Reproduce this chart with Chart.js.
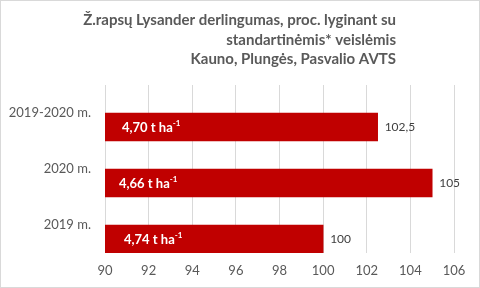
<!DOCTYPE html>
<html>
<head>
<meta charset="utf-8">
<script src="https://cdn.jsdelivr.net/npm/chart.js@4"></script>
<style>
html,body{margin:0;padding:0;background:#fff;}
canvas{display:block;}
</style>
</head>
<body>
<canvas id="c" width="480" height="288"></canvas>
<script>
const categories = ["2019-2020 m.", "2020 m.", "2019 m."];
const relativeValues = [102.5, 105, 100];
const yieldLabels = ["4,70", "4,66", "4,74"];
const xTicks = [90, 92, 94, 96, 98, 100, 102, 104, 106];
const titleLines = [
  "Ž.rapsų Lysander derlingumas, proc. lyginant su",
  "standartinėmis* veislėmis",
  "Kauno, Plungės, Pasvalio AVTS"
];

const FONT = "Lato, 'Open Sans', sans-serif";

const drawPlugin = {
  id: 'custom',
  afterDraw(chart) {
    const ctx = chart.ctx;
    ctx.save();
    // border
    ctx.strokeStyle = '#d9d9d9';
    ctx.lineWidth = 1;
    ctx.strokeRect(0.5, 0.5, 479, 287);
    // title
    ctx.fillStyle = '#595959';
    ctx.font = 'bold 15px ' + FONT;
    ctx.textAlign = 'right';
    ctx.textBaseline = 'alphabetic';
    titleLines.forEach((t, i) => ctx.fillText(t, 396, 25 + i * 19.5));
    // labels
    const meta = chart.getDatasetMeta(1);
    const xBase = chart.scales.x.getPixelForValue(chart.scales.x.min);
    meta.data.forEach((bar, i) => {
      const p = bar.getProps(['x', 'y'], true);
      // value label
      ctx.fillStyle = '#404040';
      ctx.font = '12px ' + FONT;
      ctx.textAlign = 'left';
      ctx.textBaseline = 'middle';
      ctx.fillText(String(relativeValues[i]).replace('.', ','), p.x + 7, p.y);
      // inside label
      const x0 = xBase + [17, 14, 19][i];
      ctx.fillStyle = '#ffffff';
      ctx.font = 'bold 13px ' + FONT;
      const main = yieldLabels[i] + ' t ha';
      ctx.fillText(main, x0, p.y + 1);
      const w = ctx.measureText(main).width;
      ctx.font = 'bold 8px ' + FONT;
      ctx.fillText('-1', x0 + w, p.y - 4);
    });
    ctx.restore();
  }
};

new Chart(document.getElementById('c'), {
  type: 'bar',
  data: {
    labels: categories,
    datasets: [
      { data: relativeValues.map(() => null), backgroundColor: 'rgba(0,0,0,0)' },
      { data: relativeValues, backgroundColor: '#c00000' }
    ]
  },
  options: {
    indexAxis: 'y',
    responsive: false,
    animation: false,
    layout: { padding: { top: 85, right: 26, left: 0, bottom: 0 } },
    datasets: { bar: { categoryPercentage: 1.0, barPercentage: 1.0 } },
    plugins: { legend: { display: false }, tooltip: { enabled: false }, title: { display: false } },
    scales: {
      x: {
        min: 90, max: 106,
        afterBuildTicks(axis) { axis.ticks = xTicks.map(v => ({ value: v })); },
        afterFit(axis) { axis.height = 35; },
        grid: { color: '#d9d9d9', drawTicks: false },
        border: { display: false },
        ticks: { color: '#595959', font: { family: FONT, size: 13 }, padding: 10 }
      },
      y: {
        afterFit(axis) { axis.width = 105; },
        grid: { display: false, drawTicks: false },
        border: { display: false },
        ticks: { color: '#595959', font: { family: FONT, size: 13 }, padding: 14 }
      }
    }
  },
  plugins: [drawPlugin]
});
</script>
</body>
</html>
